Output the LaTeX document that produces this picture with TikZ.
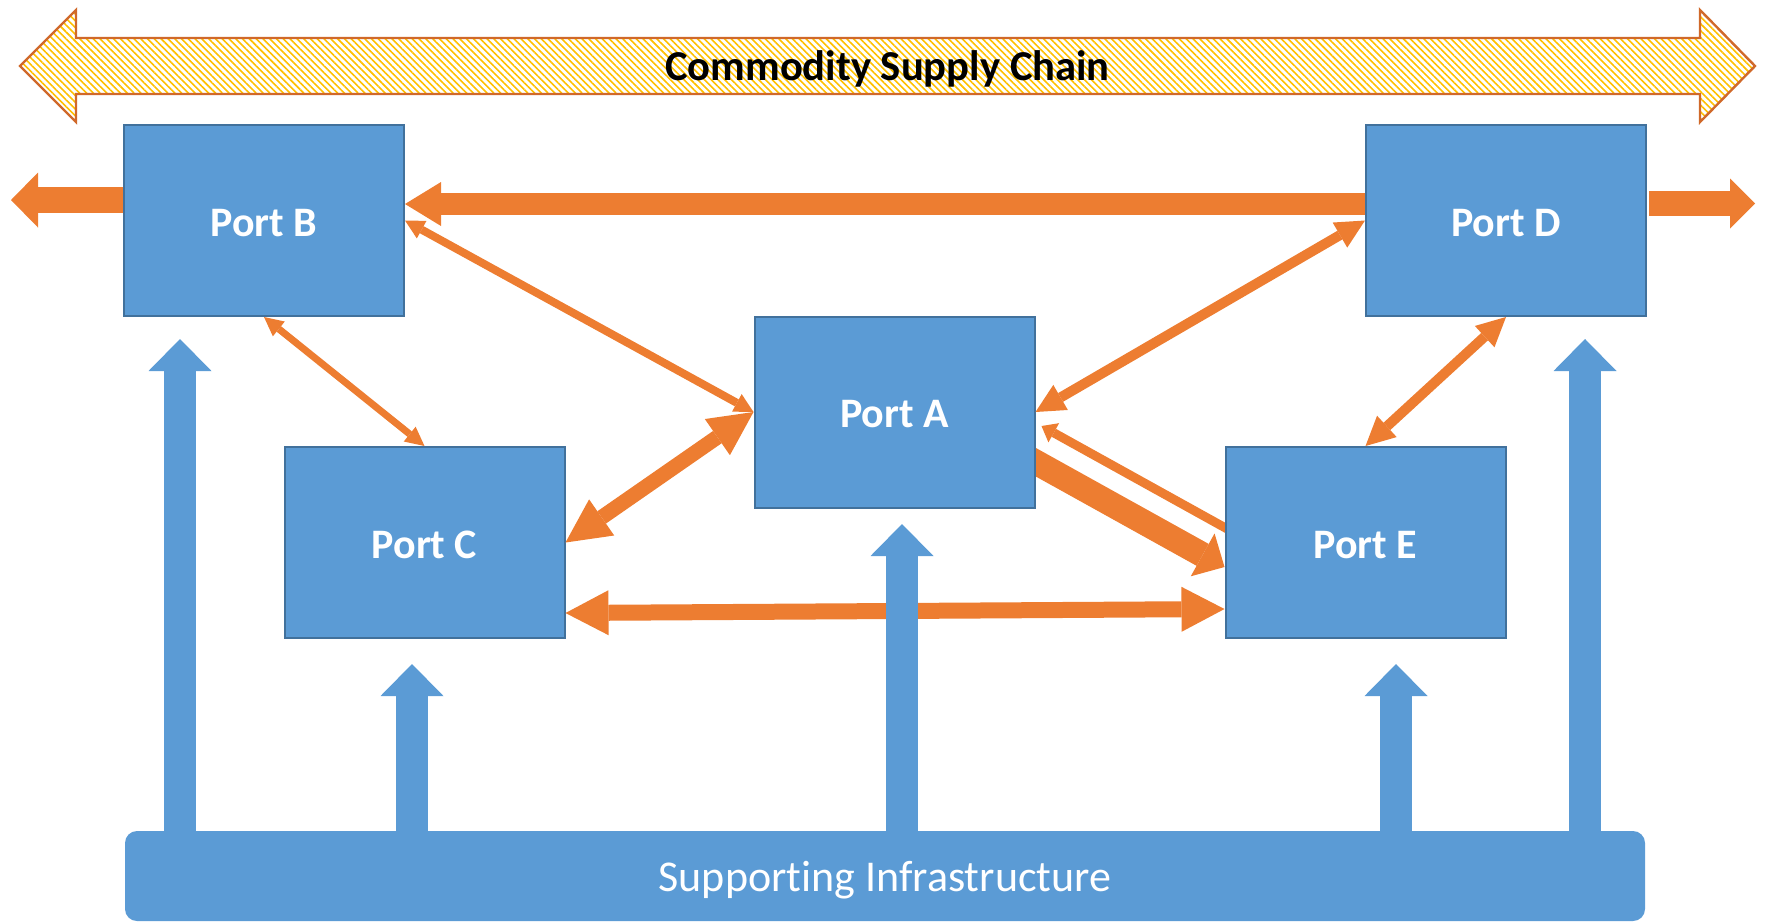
\documentclass[tikz,border=0pt]{standalone}
\usepackage{fontspec}
\setmainfont{Carlito}[Ligatures=NoCommon]
\usetikzlibrary{arrows.meta,calc,patterns.meta}
\definecolor{portblue}{HTML}{5B9BD5}
\definecolor{portborder}{HTML}{41719C}
\definecolor{orangec}{HTML}{ED7D31}
\definecolor{goldc}{HTML}{FFC000}
\definecolor{titleborder}{HTML}{D0692A}
\pgfdeclarelayer{background}
\pgfsetlayers{background,main}
\tikzset{
  portbox/.style={draw=portborder, fill=portblue, line width=1pt,
    minimum width=140pt, minimum height=95.5pt, inner sep=0pt,
    text height=15.5pt, text depth=0pt,
    text=white, font=\bfseries\fontsize{21}{25}\selectfont},
  oline/.style={draw=orangec, line width=#1},
  supup/.style={draw=portblue, line width=16pt,
    -{Triangle[length=16pt,width=31.5pt,line width=0pt]}},
}
\begin{document}
\begin{tikzpicture}[x=0.5pt,y=-0.5pt]
\useasboundingbox (0,0) rectangle (1765,923);

% title double arrow
\draw[titleborder, line width=1.2pt, line join=miter,
  pattern={Lines[angle=-45,distance=2.4pt,line width=0.8pt]}, pattern color=goldc]
  (20,66) -- (76,10) -- (76,38) -- (1700,38) -- (1700,10) -- (1755,66)
  -- (1700,122) -- (1700,94) -- (76,94) -- (76,122) -- cycle;
\node[font=\bfseries\fontsize{21.3}{25}\selectfont, text=black] (title) at (887.5,69) {Commodity Supply Chain};

% ports
\node[portbox] (B) at (264,220.5) {Port B};
\node[portbox] (D) at (1506,220.5) {Port D};
\node[portbox] (A) at (894.5,412) {Port A};
\node[portbox] (C) at (424.5,542.5) {Port C};
\node[portbox] (E) at (1365.5,542.5) {Port E};

% supporting infrastructure
\node[fill=portblue, rounded corners=6pt, minimum width=760pt, minimum height=45pt,
  inner sep=0pt, text height=15.5pt, text depth=0pt, text=white,
  font=\fontsize{22}{26}\selectfont] (S) at (885,876) {Supporting Infrastructure};

% free ends
\coordinate (bl) at (11,200);
\coordinate (dr) at (1755,203.5);

% orange connectors
\draw[oline=13pt, -{Triangle[length=13.5pt,width=27.5pt,line width=0pt]}]
  ($(B.west)+(0,-20.5)$) -- (bl);
\draw[oline=12.5pt, -{Triangle[length=12.5pt,width=25pt,line width=0pt]}]
  ($(D.east)+(2,-17)$) -- (dr);
\draw[oline=11pt, -{Triangle[length=18pt,width=22pt,line width=0pt]}]
  ($(D.west)+(0,-16.5)$) -- ($(B.east)+(0,-16.5)$);
\draw[oline=4pt, {Triangle[length=9.5pt,width=10pt,line width=0pt]}-{Triangle[length=9.5pt,width=10pt,line width=0pt]}]
  (B.east) -- (A.west);
\draw[oline=5pt, {Triangle[length=14.5pt,width=14.5pt,line width=0pt]}-{Triangle[length=14.5pt,width=14.5pt,line width=0pt]}]
  (D.west) -- (A.east);
\draw[oline=3.5pt, {Triangle[length=9.5pt,width=9.5pt,line width=0pt]}-{Triangle[length=9.5pt,width=9.5pt,line width=0pt]}]
  (B.south) -- (C.north);
\draw[oline=5pt, {Triangle[length=14.5pt,width=14.5pt,line width=0pt]}-{Triangle[length=14.5pt,width=14.5pt,line width=0pt]}]
  (D.south) -- (E.north);
\draw[oline=7.5pt, {Triangle[length=22pt,width=22pt,line width=0pt]}-{Triangle[length=22pt,width=22pt,line width=0pt]}]
  (C.east) -- (A.west);
\draw[oline=8pt, {Triangle[length=21.5pt,width=22.5pt,line width=0pt]}-{Triangle[length=21.5pt,width=22.5pt,line width=0pt]}]
  ($(C.east)+(0,70.5)$) -- ($(E.west)+(0,66.5)$);
\begin{pgfonlayer}{background}
\draw[oline=12.5pt, -{Triangle[length=12.5pt,width=24.5pt,line width=0pt]}]
  ($(A.east)+(-10.5,44.2)$) -- ($(E.west)+(0,24.5)$);
\draw[oline=4.5pt, -{Triangle[length=7pt,width=11pt,line width=0pt]}]
  ($(E.west)+(11.5,-8.7)$) -- ($(A.east)+(6,14)$);
\end{pgfonlayer}

% blue support arrows
\coordinate (u1) at (180,339);
\coordinate (u2) at (412,664);
\coordinate (u3) at (902,524);
\coordinate (u4) at (1396,664);
\coordinate (u5) at (1585,339);
\foreach \u in {u1,u2,u3,u4,u5}
  \draw[supup] ($(S.north -| \u)+(0,8)$) -- (\u);
\end{tikzpicture}
\end{document}
